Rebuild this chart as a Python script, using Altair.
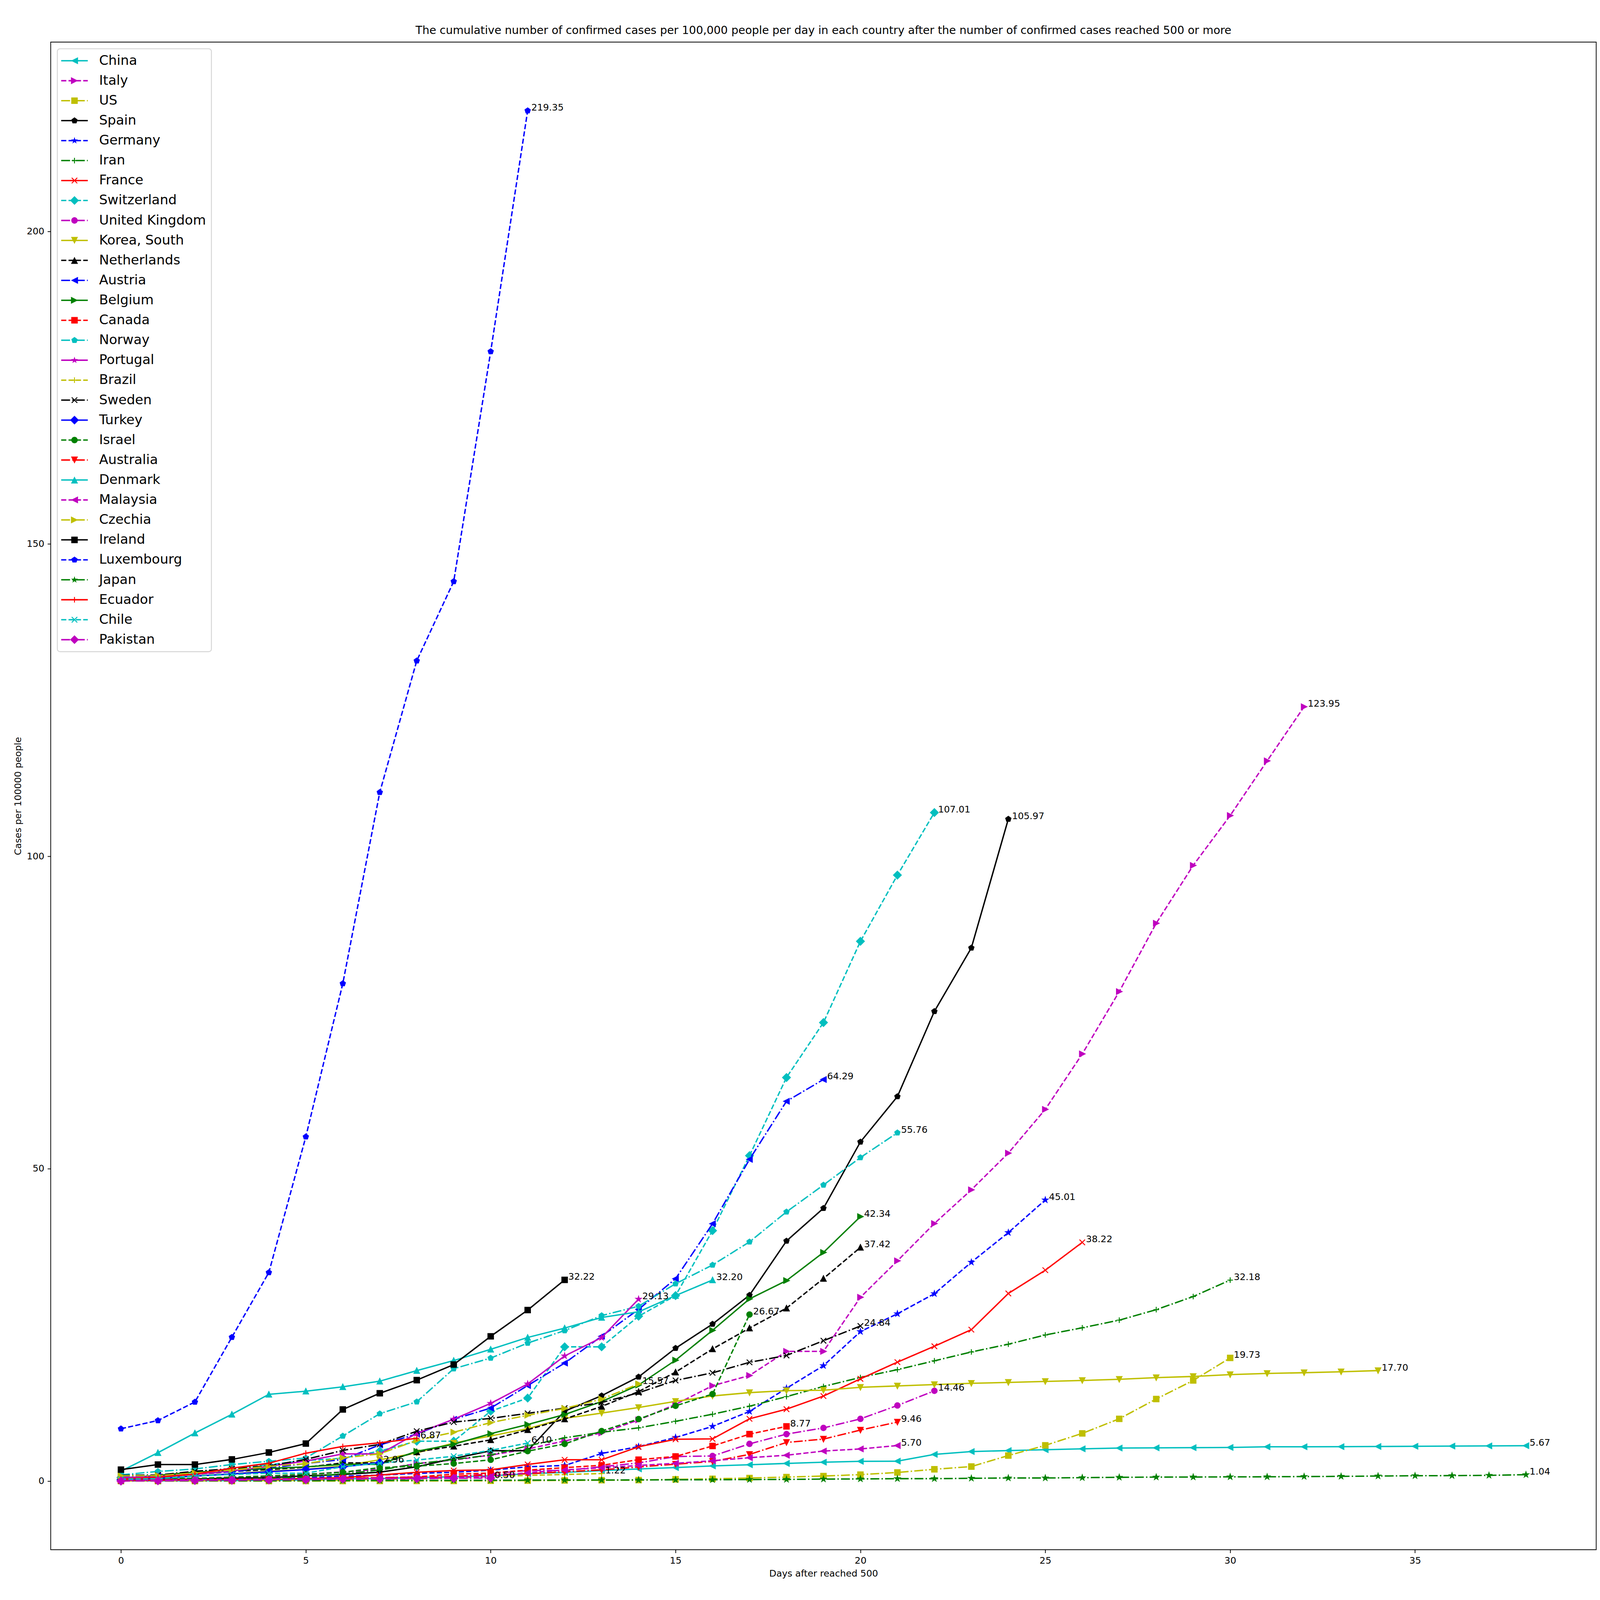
import math
import altair as alt
import pandas as pd

# ---------------- data ----------------
countries = ["China", "Italy", "US", "Spain", "Germany", "Iran", "France", "Switzerland",
             "United Kingdom", "Korea, South", "Netherlands", "Austria", "Belgium", "Canada",
             "Norway", "Portugal", "Brazil", "Sweden", "Turkey", "Israel", "Australia",
             "Denmark", "Malaysia", "Czechia", "Ireland", "Luxembourg", "Japan", "Ecuador",
             "Chile", "Pakistan"]

china = [0.04, 0.05, 0.07, 0.10, 0.15, 0.21, 0.39, 0.43, 0.58, 0.70, 0.85, 1.19, 1.41, 1.69,
         1.96, 2.18, 2.44, 2.63, 2.84, 3.03, 3.17, 3.20, 4.28, 4.74, 4.89, 5.04, 5.17, 5.30,
         5.33, 5.36, 5.40, 5.50, 5.50, 5.52, 5.55, 5.58, 5.61, 5.64, 5.67]
italy = [0.10, 0.26, 0.38, 0.54, 0.75, 1.09, 1.48, 1.88, 2.82, 3.39, 4.17, 5.15, 6.43, 7.73,
         9.80, 12.29, 15.28, 16.91, 20.77, 20.77, 29.43, 35.26, 41.24, 46.63, 52.50, 59.51,
         68.38, 78.36, 89.29, 98.55, 106.53, 115.28, 123.95]
us = [0.02, 0.02, 0.02, 0.02, 0.02, 0.02, 0.02, 0.03, 0.04, 0.04, 0.06, 0.08, 0.12, 0.16,
      0.17, 0.29, 0.38, 0.50, 0.65, 0.82, 1.05, 1.39, 1.90, 2.34, 4.10, 5.73, 7.65, 9.98,
      13.15, 16.12, 19.73]
spain = [0.18, 0.26, 0.35, 0.48, 0.55, 0.86, 1.07, 1.44, 2.30, 3.63, 4.87, 4.87, 11.20,
         13.68, 16.69, 21.28, 25.14, 29.77, 38.44, 43.68, 54.30, 61.56, 75.19, 85.35, 105.97]
germany = [0.10, 0.16, 0.19, 0.24, 0.32, 0.58, 0.81, 0.96, 1.25, 1.42, 1.76, 2.30, 2.51,
           4.43, 5.53, 6.99, 8.77, 11.16, 14.87, 18.48, 23.94, 26.79, 30.00, 35.04, 39.78,
           45.01]
iran = [0.07, 0.11, 0.17, 0.29, 0.46, 0.71, 1.16, 1.79, 2.78, 3.48, 4.18, 5.65, 6.94, 7.82,
        8.53, 9.58, 10.72, 12.00, 13.53, 15.16, 16.60, 17.85, 19.26, 20.68, 21.92, 23.40,
        24.55, 25.77, 27.45, 29.55, 32.18]
france = [0.09, 0.15, 0.19, 0.29, 0.30, 0.43, 0.57, 0.98, 1.43, 1.70, 1.82, 2.68, 3.42, 3.42,
          5.50, 6.71, 6.77, 9.98, 11.52, 13.62, 16.38, 19.05, 21.59, 24.25, 30.04, 33.77,
          38.22]
switzerland = [0.55, 0.88, 1.12, 2.10, 2.63, 3.30, 3.67, 4.82, 6.40, 6.40, 11.20, 13.30,
               21.50, 21.50, 26.40, 29.70, 40.10, 52.10, 64.60, 73.40, 86.40, 97.00, 107.01]
united_kingdom = [0.08, 0.13, 0.17, 0.24, 0.31, 0.41, 0.48, 0.57, 0.68, 0.68, 1.20, 1.71,
                  1.71, 2.31, 2.92, 3.94, 4.03, 5.97, 7.53, 8.52, 9.97, 12.11, 14.46]
korea_south = [0.20, 0.40, 0.84, 1.17, 1.61, 1.89, 2.44, 3.42, 4.53, 6.10, 7.24, 8.40, 10.05,
               10.89, 11.79, 12.77, 13.64, 14.17, 14.49, 14.55, 15.02, 15.24, 15.46, 15.66,
               15.81, 15.96, 16.12, 16.30, 16.57, 16.76, 17.05, 17.24, 17.36, 17.51, 17.70]
netherlands = [0.48, 0.74, 1.09, 1.54, 1.87, 2.22, 2.92, 2.92, 4.68, 5.59, 6.61, 8.23, 9.94,
               11.96, 14.34, 17.45, 21.16, 24.50, 27.69, 32.43, 37.42]
austria = [0.63, 0.91, 1.20, 1.51, 2.09, 2.83, 3.48, 5.80, 7.54, 9.90, 11.70, 15.30, 18.90,
           23.20, 27.50, 32.40, 41.20, 51.50, 60.80, 64.29]
belgium = [0.43, 0.93, 1.45, 1.72, 2.05, 2.29, 2.69, 2.69, 4.79, 5.91, 7.60, 9.07, 10.66,
           12.74, 15.39, 19.36, 24.14, 29.17, 32.10, 36.61, 42.34]
canada = [0.15, 0.17, 0.21, 0.21, 0.29, 0.32, 0.52, 0.53, 0.68, 1.12, 1.29, 1.77, 2.16, 2.54,
          3.44, 3.96, 5.63, 7.53, 8.77]
norway = [1.01, 1.56, 1.95, 2.66, 3.18, 3.71, 7.23, 10.80, 12.70, 18.00, 19.70, 22.10, 24.10,
          26.50, 28.00, 31.60, 34.60, 38.30, 43.10, 47.40, 51.80, 55.76]
portugal = [0.57, 0.76, 1.09, 1.64, 2.38, 3.22, 4.36, 4.36, 7.64, 9.92, 12.45, 15.56, 20.04,
            22.98, 29.13]
brazil = [0.02, 0.07, 0.07, 0.08, 0.10, 0.15, 0.18, 0.30, 0.38, 0.49, 0.74, 0.92, 1.07, 1.22]
sweden = [0.92, 0.99, 1.58, 2.00, 2.44, 3.49, 4.92, 5.89, 8.00, 9.45, 10.05, 10.85, 11.70,
          12.58, 14.15, 16.12, 17.34, 19.02, 20.12, 22.48, 24.84]
turkey = [0.23, 0.44, 0.82, 1.15, 1.50, 1.86, 2.28, 2.96]
israel = [0.24, 0.44, 0.44, 0.65, 0.84, 1.09, 1.42, 2.17, 2.40, 2.82, 3.42, 4.81, 5.96, 8.02,
          9.94, 12.06, 13.94, 26.67]
australia = [0.21, 0.22, 0.24, 0.25, 0.30, 0.36, 0.43, 0.51, 0.51, 0.80, 1.00, 1.19, 1.51,
             1.81, 2.27, 2.72, 3.16, 4.28, 6.20, 6.73, 8.18, 9.46]
denmark = [1.60, 4.56, 7.70, 10.70, 13.90, 14.40, 15.10, 16.00, 17.70, 19.30, 21.10, 23.00,
           24.50, 26.20, 27.10, 29.70, 32.20]
malaysia = [0.16, 0.16, 0.26, 0.30, 0.31, 0.37, 0.41, 0.47, 0.47, 0.63, 0.76, 1.36, 1.80,
            2.14, 2.51, 2.86, 3.27, 3.76, 4.15, 4.82, 5.16, 5.70]
czechia = [0.86, 0.89, 1.33, 1.78, 2.38, 2.81, 3.73, 4.37, 6.53, 7.84, 9.37, 10.55, 11.64,
           13.13, 15.57]
ireland = [1.85, 2.66, 2.66, 3.48, 4.59, 6.02, 11.47, 14.07, 16.17, 18.66, 23.18, 27.38,
           32.22]
luxembourg = [8.39, 9.71, 12.67, 23.04, 33.40, 55.12, 79.64, 110.25, 131.30, 144.00, 180.80,
              219.35]
japan = [0.05, 0.05, 0.06, 0.07, 0.07, 0.08, 0.10, 0.12, 0.13, 0.13, 0.15, 0.17, 0.18, 0.19,
         0.20, 0.22, 0.23, 0.26, 0.28, 0.33, 0.36, 0.40, 0.40, 0.46, 0.51, 0.51, 0.56, 0.62,
         0.65, 0.66, 0.69, 0.70, 0.74, 0.77, 0.82, 0.87, 0.89, 0.93, 1.04]
ecuador = [0.33, 0.63, 1.13, 2.08, 2.87, 4.48, 5.56, 6.14, 6.87]
chile = [0.33, 0.40, 0.83, 1.07, 1.27, 1.27, 2.32, 2.87, 3.38, 3.99, 4.93, 6.10]
pakistan = [0.02, 0.06, 0.11, 0.14, 0.21, 0.24, 0.34, 0.37, 0.41, 0.46, 0.50]

series = [china, italy, us, spain, germany, iran, france, switzerland, united_kingdom,
          korea_south, netherlands, austria, belgium, canada, norway, portugal, brazil,
          sweden, turkey, israel, australia, denmark, malaysia, czechia, ireland, luxembourg,
          japan, ecuador, chile, pakistan]

x_ticks = [0, 5, 10, 15, 20, 25, 30, 35]
y_ticks = [0, 50, 100, 150, 200]

# ---------------- styles (matplotlib-like cycles, 200 dpi) ----------------
PT = 200.0 / 72.0
LW = 1.5 * PT
MS = 6.0 * PT
MEW = 1.0 * PT
U = MS / 2.0
SYM_SIZE = MS * MS
FONT = "DejaVu Sans"
TICK_FS = 10 * PT
LEG_FS = 14.4 * PT
TITLE_FS = 12 * PT

color_cycle = ["#00bfbf", "#bf00bf", "#bfbf00", "#000000", "#0000ff", "#008000", "#ff0000"]
dash_cycle = ["solid", "dashed", "dashdot"]
marker_cycle = ["tri_left", "tri_right", "square", "pentagon", "star", "plus", "x",
                "diamond", "circle", "tri_down", "tri_up"]
DASHES = {"dashed": [3.7 * 1.5 * PT, 1.6 * 1.5 * PT],
          "dashdot": [6.4 * 1.5 * PT, 1.6 * 1.5 * PT, 1.0 * 1.5 * PT, 1.6 * 1.5 * PT]}


def marker_points(name):
    if name == "tri_left":
        return [(-1, 0), (1, -1), (1, 1)]
    if name == "tri_right":
        return [(1, 0), (-1, 1), (-1, -1)]
    if name == "tri_up":
        return [(0, -1), (1, 1), (-1, 1)]
    if name == "tri_down":
        return [(0, 1), (-1, -1), (1, -1)]
    if name == "square":
        return [(-1, -1), (1, -1), (1, 1), (-1, 1)]
    if name == "diamond":
        r = math.sqrt(2)
        return [(0, -r), (r, 0), (0, r), (-r, 0)]
    if name == "pentagon":
        return [(math.cos(math.radians(-90 + 72 * k)), math.sin(math.radians(-90 + 72 * k)))
                for k in range(5)]
    if name == "star":
        pts = []
        for k in range(10):
            r = 1.0 if k % 2 == 0 else 0.381966
            a = math.radians(-90 + 36 * k)
            pts.append((r * math.cos(a), r * math.sin(a)))
        return pts
    return None


def fmt(v):
    s = f"{v:.4f}".rstrip("0").rstrip(".")
    return "0" if s in ("-0", "") else s


def poly_path(pts, scale=1.0):
    pts = [(x * scale, y * scale) for x, y in pts]
    n = len(pts)
    area = sum(pts[i][0] * pts[(i + 1) % n][1] - pts[(i + 1) % n][0] * pts[i][1]
               for i in range(n))
    if area < 0:
        pts = pts[::-1]
    return "M" + "L".join(f"{fmt(x)},{fmt(y)}" for x, y in pts) + "Z"


def rect(x0, y0, x1, y1):
    return poly_path([(x0, y0), (x1, y0), (x1, y1), (x0, y1)])


def circle_poly(r, n=24):
    return poly_path([(r * math.cos(2 * math.pi * k / n), r * math.sin(2 * math.pi * k / n))
                      for k in range(n)])


def plot_shape(name):
    if name == "circle":
        return "circle"
    if name == "plus":
        return "M-1,0L1,0M0,-1L0,1"
    if name == "x":
        return "M-1,-1L1,1M-1,1L1,-1"
    return poly_path(marker_points(name))


def legend_shape(name, dash):
    half_len = (2.0 * LEG_FS / 2.0) / U
    h = (LW / 2.0) / U
    parts = []
    if dash == "solid":
        parts.append(rect(-half_len, -h, half_len, h))
    else:
        pattern = [d / U for d in DASHES[dash]]
        pos, i = -half_len, 0
        while pos < half_len:
            seg = pattern[i % len(pattern)]
            if i % 2 == 0:
                parts.append(rect(pos, -h, min(pos + seg, half_len), h))
            pos += seg
            i += 1
    t = (MEW / 2.0) / U
    if name == "circle":
        parts.append(circle_poly(1.0 + t))
    elif name == "plus":
        parts.append(rect(-t, -1, t, 1))
        parts.append(rect(-1, -t, 1, t))
    elif name == "x":
        for (x0, y0, x1, y1) in [(-1, -1, 1, 1), (-1, 1, 1, -1)]:
            dx, dy = x1 - x0, y1 - y0
            ln = math.hypot(dx, dy)
            nx, ny = -dy / ln * t, dx / ln * t
            parts.append(poly_path([(x0 + nx, y0 + ny), (x1 + nx, y1 + ny),
                                    (x1 - nx, y1 - ny), (x0 - nx, y0 - ny)]))
    else:
        grow = {"tri_left": 1.27, "tri_right": 1.27, "tri_up": 1.27, "tri_down": 1.27,
                "square": 1.17, "diamond": 1.12, "pentagon": 1.2, "star": 1.3}[name]
        parts.append(poly_path(marker_points(name), grow))
    return "".join(parts)


colors = [color_cycle[i % 7] for i in range(len(countries))]
dashes = [dash_cycle[i % 3] for i in range(len(countries))]
markers = [marker_cycle[i % 11] for i in range(len(countries))]
legend_paths = [legend_shape(markers[i], dashes[i]) for i in range(len(countries))]

# ---------------- table ----------------
rows = []
for name, vals in zip(countries, series):
    for d, v in enumerate(vals):
        rows.append({"country": name, "day": d, "value": v})
df = pd.DataFrame(rows)
last = pd.DataFrame([{"country": n, "day": len(v) - 1, "value": v[-1],
                      "label": f"{v[-1]:.2f}"} for n, v in zip(countries, series)])

x_scale = alt.Scale(domain=[-1.9, 39.9], nice=False, zero=False)
y_scale = alt.Scale(domain=[-10.967, 230.317], nice=False, zero=False)
x_axis = alt.Axis(values=x_ticks, format="d", title="Days after reached 500")
y_axis = alt.Axis(values=y_ticks, format="d", title="Cases per 100000 people")
X = alt.X("day:Q", scale=x_scale, axis=x_axis)
Y = alt.Y("value:Q", scale=y_scale, axis=y_axis)

base = alt.Chart(df)
layers = []
for i, name in enumerate(countries):
    sub = base.transform_filter(alt.datum.country == name)
    col = colors[i]
    if dashes[i] == "solid":
        line = sub.mark_line(color=col, strokeWidth=LW, strokeCap="square",
                             strokeJoin="round")
    else:
        line = sub.mark_line(color=col, strokeWidth=LW, strokeDash=DASHES[dashes[i]],
                             strokeCap="butt", strokeJoin="round")
    layers.append(line.encode(x=X, y=Y))
    shp = plot_shape(markers[i])
    if markers[i] in ("plus", "x"):
        pt = sub.mark_point(shape=shp, size=SYM_SIZE, filled=False, stroke=col,
                            strokeWidth=MEW, opacity=1, strokeCap="butt")
    else:
        pt = sub.mark_point(shape=shp, size=SYM_SIZE, filled=True, fill=col, stroke=col,
                            strokeWidth=MEW, opacity=1)
    layers.append(pt.encode(x=X, y=Y))

labels = alt.Chart(last).mark_text(align="left", baseline="alphabetic", dx=11,
                                   font=FONT, fontSize=TICK_FS, color="black").encode(
    x=X, y=Y, text="label:N")
layers.append(labels)

leg = alt.Legend(title=None, orient="top-left", offset=20, padding=16,
                 symbolSize=SYM_SIZE, symbolStrokeWidth=0, symbolOffset=15.5,
                 labelOffset=54, labelFont=FONT, labelFontSize=LEG_FS, labelColor="black",
                 labelLimit=0, rowPadding=20, fillColor="rgba(255,255,255,0.8)",
                 strokeColor="#d6d6d6", cornerRadius=8)
legend_layer = base.transform_filter("false").mark_point(filled=True, opacity=1).encode(
    x=X, y=Y,
    color=alt.Color("country:N", scale=alt.Scale(domain=countries, range=colors), legend=leg),
    shape=alt.Shape("country:N", scale=alt.Scale(domain=countries, range=legend_paths),
                    legend=leg),
)
layers.append(legend_layer)

chart = alt.layer(*layers).properties(
    width=4645, height=4531,
    padding={"left": 31, "top": -314, "right": 2, "bottom": 2},
    background="white",
    title=alt.TitleParams(
        "The cumulative number of confirmed cases per 100,000 people per day in each country "
        "after the number of confirmed cases reached 500 or more",
        font=FONT, fontSize=TITLE_FS, fontWeight="normal", color="black",
        anchor="middle", offset=17),
).configure_view(stroke="black", strokeWidth=0.8 * PT, fill="white").configure_axis(
    grid=False, domain=False, ticks=True, tickSize=3.5 * PT, tickWidth=0.8 * PT,
    tickColor="black", labelFont=FONT, labelFontSize=TICK_FS, labelColor="black",
    labelPadding=3.5 * PT, titleFont=FONT, titleFontSize=TICK_FS, titleFontWeight="normal",
    titleColor="black", titlePadding=4 * PT, labelFlush=False,
).configure_legend(strokeWidth=PT)

chart.save("out.html", embed_options={"renderer": "svg", "actions": False})
